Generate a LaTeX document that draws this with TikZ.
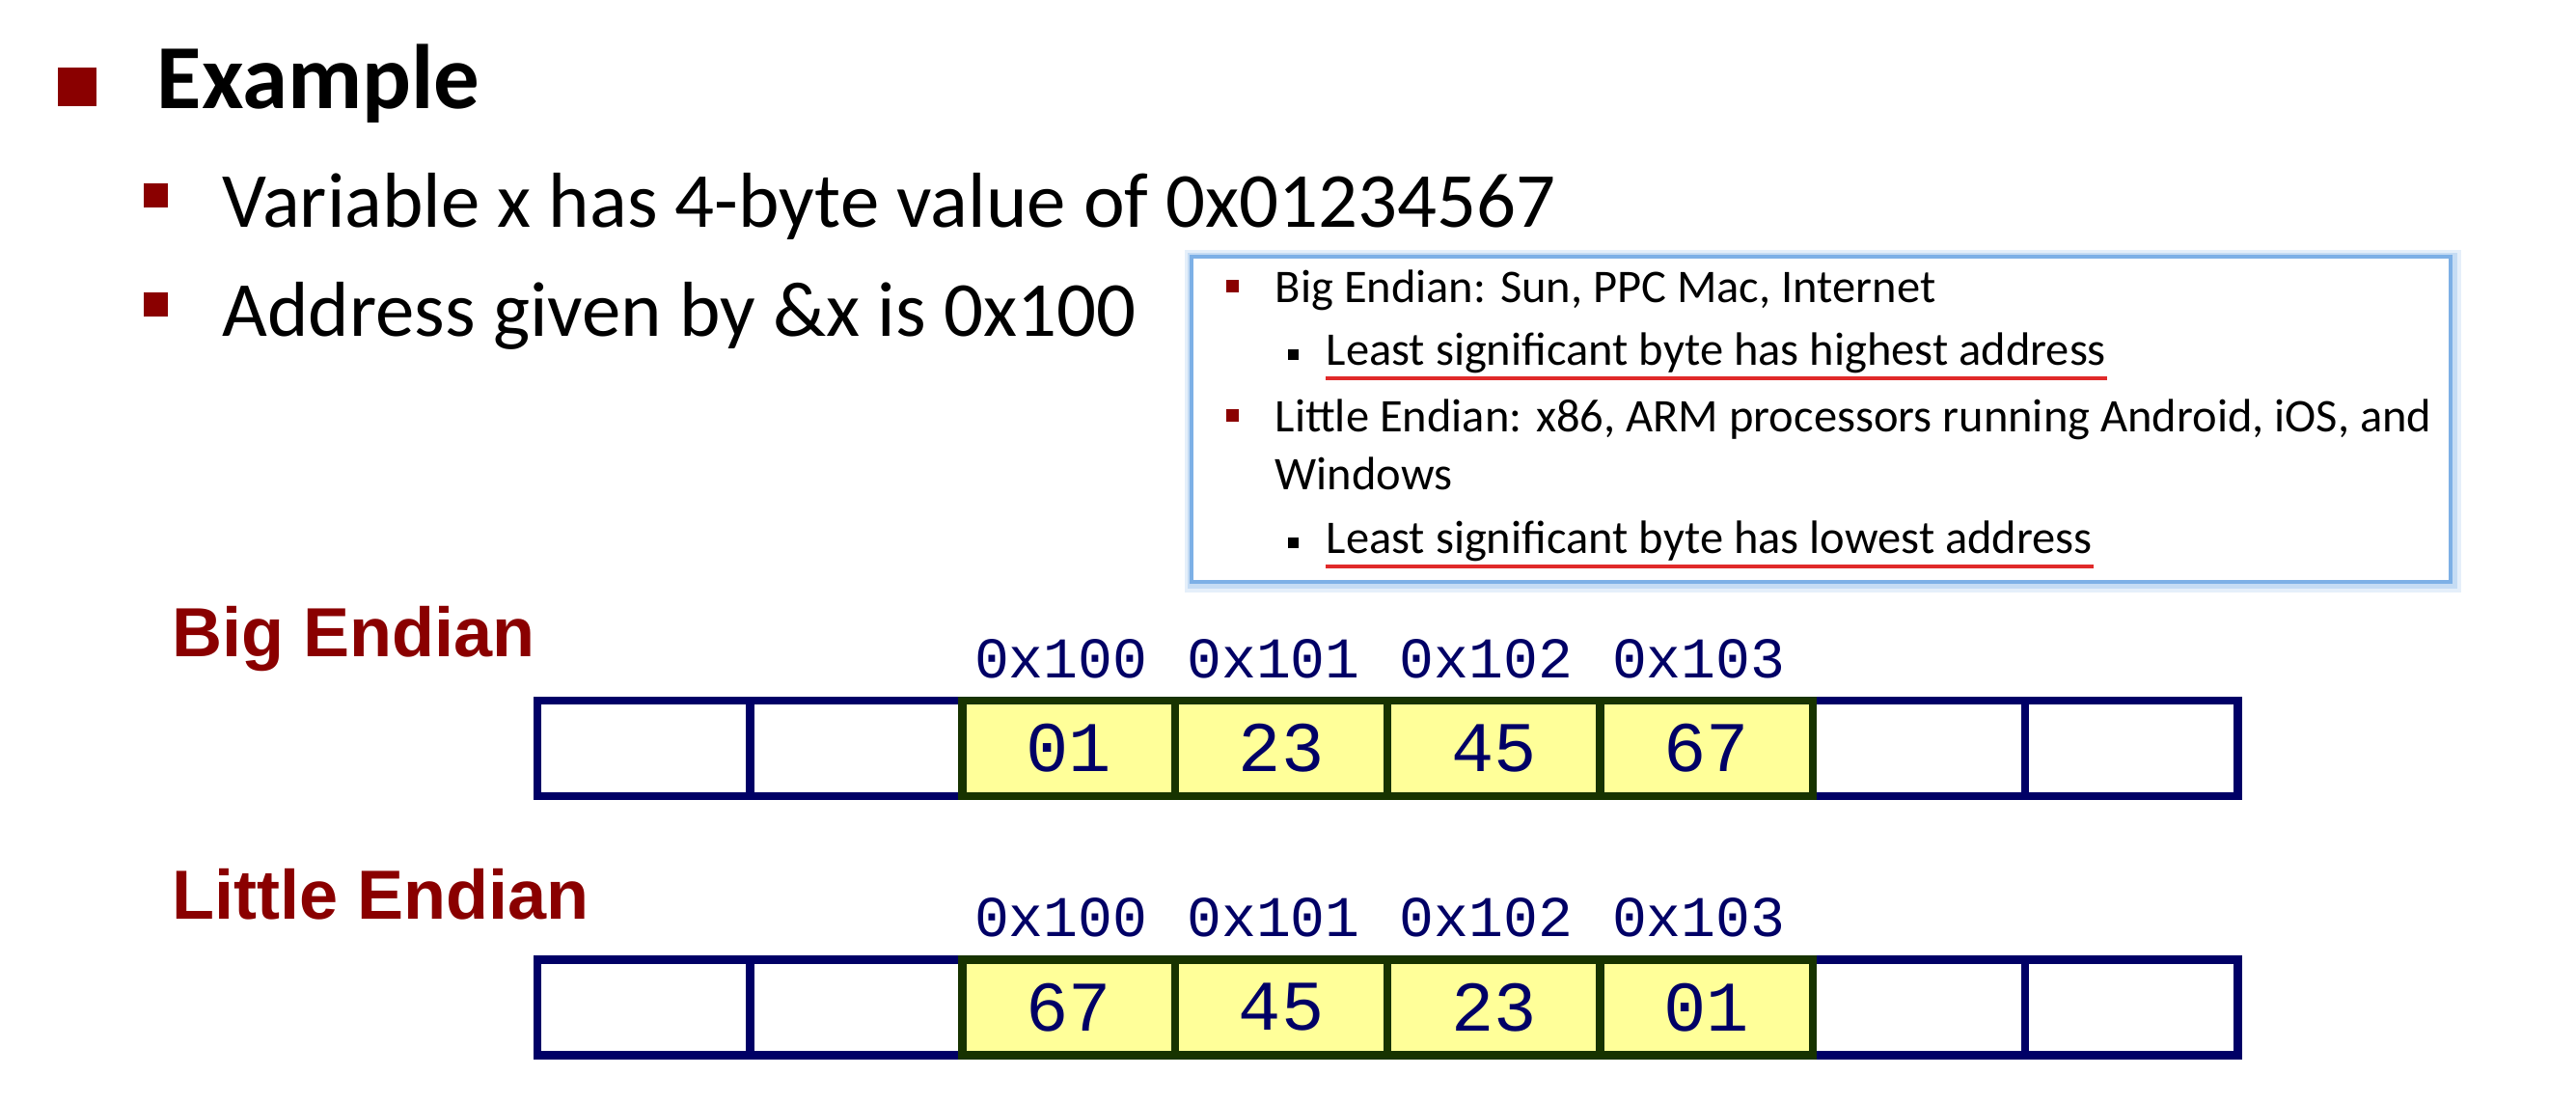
\documentclass[tikz,border=0pt]{standalone}
\usepackage{fontspec}
\setmainfont{Carlito}
\newfontfamily\arialfont{Liberation Sans}
\newfontfamily\courfont{Liberation Mono}
\usetikzlibrary{positioning}
\definecolor{slidered}{HTML}{8A0000}
\definecolor{navy}{HTML}{000066}
\definecolor{cellgreen}{HTML}{173300}
\definecolor{cellyellow}{HTML}{FFFF99}
\definecolor{calloutblue}{HTML}{7DB0E6}
\definecolor{ulred}{HTML}{E02A2A}

\tikzset{
  headtext/.style={anchor=base west, inner sep=0pt, font=\bfseries\fontsize{27}{32}\selectfont},
  bodytext/.style={anchor=base west, inner sep=0pt, font=\fontsize{23}{28}\selectfont},
  notetext/.style={anchor=base west, inner sep=0pt, font=\fontsize{13.8}{16}\selectfont},
  rowlabel/.style={anchor=base west, inner sep=0pt, text=slidered, font=\arialfont\bfseries\fontsize{20.5}{24}\selectfont},
  addrtext/.style={anchor=base, inner sep=0pt, text=navy, font=\courfont\fontsize{17}{20}\selectfont},
  bigbullet/.style={fill=slidered, minimum size=0.40cm, inner sep=0pt},
  subbullet/.style={fill=slidered, minimum size=0.25cm, inner sep=0pt},
  redbullet/.style={fill=slidered, minimum size=0.13cm, inner sep=0pt},
  blackbullet/.style={fill=black, minimum size=0.11cm, inner sep=0pt},
  uline/.style={ulred, line width=0.04cm},
  emptycell/.style={draw=navy, fill=white, line width=0.085cm, minimum width=2.203cm, minimum height=0.99cm, inner sep=0pt, outer sep=0pt},
  bytecell/.style={emptycell, draw=cellgreen, fill=cellyellow, text=navy, font=\courfont\fontsize{21}{21}\selectfont}
}

\begin{document}
\begin{tikzpicture}
\useasboundingbox (0,0) rectangle (26.70,-11.42);
\fill[white] (0,0) rectangle (26.70,-11.42);

% heading and the two points
\node[headtext] (title) at (1.62,-1.12) {Example};
\node[bigbullet] (title-b) at ([xshift=-0.82cm,yshift=0.22cm]title.base west) {};
\node[bodytext] (var) at (2.30,-2.35) {Variable x has 4-byte value of 0x01234567};
\node[bodytext] (addr) at (2.30,-3.48) {Address given by \&x is 0x100};
\foreach \t in {var,addr}
  \node[subbullet] (\t-b) at ([xshift=-0.69cm,yshift=0.33cm]\t.base west) {};

% callout box
\draw[calloutblue!20, line width=0.18cm] (12.37,-2.68) rectangle (25.42,-6.05);
\draw[calloutblue!45, line width=0.11cm] (12.36,-2.67) rectangle (25.41,-6.04);
\draw[calloutblue, line width=0.045cm, fill=white] (12.35,-2.66) rectangle (25.40,-6.03);
\node[notetext] (n1) at (13.21,-3.13) {Big Endian: Sun, PPC Mac, Internet};
\node[notetext] (n2) at (13.74,-3.78) {Least significant byte has highest address};
\node[notetext] (n3) at (13.21,-4.47) {Little Endian: x86, ARM processors running Android, iOS, and};
\node[notetext] (n4) at (13.21,-5.07) {Windows};
\node[notetext] (n5) at (13.74,-5.73) {Least significant byte has lowest address};
\foreach \t in {n1,n3}
  \node[redbullet] (\t-b) at ([xshift=-0.435cm,yshift=0.17cm]\t.base west) {};
\foreach \t in {n2,n5} {
  \node[blackbullet] (\t-b) at ([xshift=-0.34cm,yshift=0.105cm]\t.base west) {};
  \draw[uline] ([yshift=-0.14cm]\t.base west) -- ([yshift=-0.14cm]\t.base east);
}

% memory rows
\node[rowlabel] (big) at (1.78,-6.80) {Big Endian};
\node[rowlabel] (little) at (1.78,-9.52) {Little Endian};
\foreach \r/\y in {b/-7.755,l/-10.44}
  \foreach \i in {1,2,7,8}
    \node[emptycell] (\r\i) at ({6.6715+2.203*(\i-1)},\y) {};
\foreach \i/\v/\a in {3/01/0x100,4/23/0x101,5/45/0x102,6/67/0x103} {
  \node[bytecell] (b\i) at ({6.6715+2.203*(\i-1)},-7.755) {\v};
  \node[addrtext] (b\i-a) at ([xshift=-0.08cm,yshift=0.24cm]b\i.north) {\a};
}
\foreach \i/\v/\a in {3/67/0x100,4/45/0x101,5/23/0x102,6/01/0x103} {
  \node[bytecell] (l\i) at ({6.6715+2.203*(\i-1)},-10.44) {\v};
  \node[addrtext] (l\i-a) at ([xshift=-0.08cm,yshift=0.24cm]l\i.north) {\a};
}
\end{tikzpicture}
\end{document}
